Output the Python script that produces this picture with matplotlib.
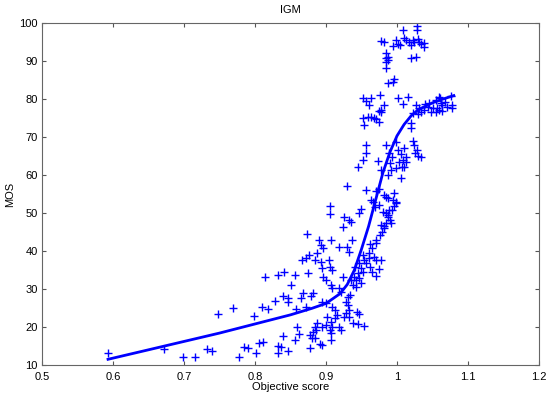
import numpy as np
import matplotlib.pyplot as plt

plt.rcParams['font.family'] = ['Liberation Sans', 'DejaVu Sans']

# scatter data (objective score, MOS)
score_low = [0.593, 0.672, 0.698, 0.715, 0.732, 0.739, 0.748, 0.769, 0.777, 0.785, 0.790, 0.801,
             0.806, 0.811, 0.798, 0.810, 0.818, 0.814, 0.832, 0.841, 0.856, 0.851, 0.840, 0.847,
             0.846, 0.828, 0.858, 0.856, 0.839, 0.832, 0.837, 0.833, 0.847]
mos_low = [13.2, 14.1, 12.2, 12.0, 14.1, 13.8, 23.4, 25.0, 12.2, 14.7, 14.4, 13.2,
           15.7, 16.1, 23.0, 25.2, 24.7, 33.2, 33.7, 34.4, 33.7, 31.1, 28.2, 27.6,
           26.5, 26.9, 24.7, 16.6, 17.7, 15.0, 14.8, 13.2, 13.7]

score_mid = [0.875, 0.8735, 0.859, 0.862, 0.876, 0.872, 0.866, 0.881, 0.879, 0.868, 0.865, 0.872,
             0.881, 0.878, 0.884, 0.880, 0.885, 0.886, 0.888, 0.878, 0.890, 0.893, 0.896, 0.887,
             0.884, 0.893, 0.895, 0.896, 0.900,
             0.895, 0.900, 0.909, 0.907, 0.909, 0.904, 0.905, 0.908, 0.907, 0.918, 0.906, 0.906,
             0.924, 0.918, 0.921, 0.931, 0.934, 0.928, 0.931, 0.932, 0.928, 0.933, 0.926, 0.913,
             0.915, 0.912, 0.902, 0.907, 0.909, 0.900, 0.905, 0.907, 0.895, 0.919, 0.921, 0.907,
             0.892, 0.895, 0.943, 0.946, 0.938, 0.945, 0.954]
mos_mid = [34.3, 44.4, 19.9, 18.1, 38.9, 38.1, 37.6, 28.9, 28.2, 28.9, 27.6, 25.3,
           18.8, 17.9, 17.0, 17.0, 20.1, 19.2, 21.0, 14.4, 42.9, 41.6, 40.7, 39.4,
           37.6, 37.2, 35.4, 33.2, 32.4,
           26.7, 26.2, 25.3, 31.1, 30.2, 37.6, 35.9, 35.0, 42.9, 41.0, 51.8, 49.7,
           33.2, 30.2, 29.3, 28.0, 28.4, 26.7, 25.8, 24.5, 23.6, 22.7, 22.7, 24.5,
           23.2, 22.3, 22.7, 21.4, 20.1, 20.5, 19.2, 18.3, 20.1, 20.1, 19.2, 16.6,
           15.5, 15.3, 24.0, 23.4, 21.0, 20.8, 20.3]

score_rise = [0.929, 0.956, 0.926, 0.932, 0.935, 0.924, 0.936, 0.930, 0.933, 0.949, 0.947, 0.963,
              0.966, 0.969, 0.974, 0.962, 0.965, 0.970, 0.960, 0.961, 0.968, 0.971, 0.978, 0.952,
              0.954, 0.956, 0.946, 0.949, 0.952, 0.941, 0.945, 0.940, 0.942, 0.947, 0.935, 0.938,
              0.942, 0.949, 0.962, 0.965, 0.970, 0.975, 0.976, 0.971, 0.979, 0.982, 0.978, 0.981,
              0.970, 0.974, 0.982, 0.985, 0.996, 0.999, 0.988, 0.980, 0.985, 0.988, 0.990, 0.985,
              0.993, 0.996, 0.989, 0.992, 0.987, 0.994, 0.999]
mos_rise = [57.1, 56.1, 49.0, 48.2, 47.7, 46.4, 42.9, 41.1, 39.8, 51.0, 50.1, 53.4,
            53.0, 51.7, 52.1, 41.8, 40.7, 42.2, 39.4, 38.1, 38.3, 37.6, 37.6, 38.9,
            37.6, 36.8, 36.8, 35.4, 34.6, 35.9, 34.1, 33.2, 32.4, 32.8, 32.4, 31.1,
            30.6, 31.5, 35.9, 34.6, 33.4, 35.2, 44.2, 42.9, 45.1, 46.0, 46.8, 46.6,
            55.9, 56.2, 54.7, 54.3, 55.3, 53.0, 53.9, 50.3, 49.9, 49.0, 48.2, 47.3,
            50.8, 51.8, 50.8, 47.3, 49.5, 53.4, 52.6]

score_high = [0.987, 1.006, 0.992, 0.999, 0.956, 0.956, 0.952, 0.945, 0.973, 0.978, 0.985, 0.989,
              0.993, 0.990, 0.999, 1.001, 1.006, 1.003, 1.007, 1.010, 1.012, 1.013, 1.008, 1.022,
              1.024, 1.028, 1.026, 1.029, 1.034, 1.020, 1.010,
              0.952, 0.957, 0.963, 0.960, 0.976, 0.982, 0.977, 1.001, 1.009, 1.016, 0.974, 0.978,
              0.952, 0.959, 0.963, 0.967, 0.970, 0.974, 0.953, 1.027, 1.031, 1.034, 1.038, 1.043,
              1.045, 1.050, 1.055, 1.060, 1.062, 1.067, 1.064, 1.055, 1.048, 1.022, 1.020, 1.059,
              1.076, 1.078, 1.078, 1.064, 1.059, 1.057, 1.030, 1.040, 1.070]
mos_high = [60.0, 59.1, 61.3, 61.8, 67.9, 65.7, 63.9, 62.0, 63.8, 61.3, 67.9, 65.9,
            64.8, 63.1, 68.8, 66.6, 65.5, 63.5, 62.2, 67.0, 64.8, 63.5, 63.9, 69.0,
            67.9, 66.6, 65.7, 65.0, 64.7, 72.3, 62.2,
            80.2, 79.6, 80.2, 78.4, 81.1, 78.4, 77.1, 80.2, 78.7, 80.6, 76.9, 76.5,
            74.9, 75.2, 75.2, 74.9, 74.7, 74.0, 73.2, 78.4, 77.6, 76.7, 77.1, 78.0,
            78.9, 77.6, 79.7, 80.2, 78.9, 79.3, 76.9, 76.7, 76.7, 76.2, 73.6, 80.6,
            80.8, 78.4, 77.6, 78.4, 77.1, 77.6, 76.0, 78.8, 78.0]

score_top = [0.987, 0.994, 0.996, 1.009, 1.028, 1.028, 0.978, 0.982, 0.994, 1.001, 0.999, 1.004,
             1.010, 1.013, 1.017, 1.020, 1.022, 1.024, 1.029, 1.031, 1.034, 1.038, 1.038, 0.985,
             0.987, 0.984, 0.988, 0.985, 0.984, 1.020, 1.027]
mos_top = [84.1, 84.6, 85.3, 98.2, 99.1, 98.2, 95.3, 95.1, 94.0, 94.4, 95.5, 94.2,
           96.1, 95.5, 95.1, 94.2, 95.5, 95.1, 95.8, 95.1, 94.4, 94.7, 93.8, 92.0,
           91.1, 90.7, 90.3, 89.8, 88.2, 90.9, 91.1]

# fitted curve
fit_x = [0.593, 0.65, 0.70, 0.75, 0.80, 0.85, 0.88, 0.90, 0.92, 0.93, 0.94, 0.95, 0.96,
         0.97, 0.98, 0.99, 1.00, 1.01, 1.02, 1.03, 1.05, 1.065, 1.08]
fit_y = [11.5, 14.0, 16.2, 18.4, 20.8, 23.2, 24.9, 26.2, 28.8, 31.2, 35.0, 40.5, 46.5,
         53.5, 60.5, 66.0, 70.3, 73.3, 75.6, 77.2, 79.0, 80.0, 80.9]

score = score_low + score_mid + score_rise + score_high + score_top
mos = mos_low + mos_mid + mos_rise + mos_high + mos_top

fig = plt.figure(figsize=(5.5, 3.98), dpi=100)
ax = fig.add_axes([42 / 550, 33 / 398, 497 / 550, 342 / 398])

ax.plot(score, mos, '+', color='#0000ff', markersize=5.5, markeredgewidth=1.0)
ax.plot(fit_x, fit_y, '-', color='#0000ff', linewidth=2)

ax.set_xlim(0.5, 1.2)
ax.set_ylim(10, 100)
ax.set_xticks(np.arange(0.5, 1.21, 0.1))
ax.set_xticklabels(['0.5', '0.6', '0.7', '0.8', '0.9', '1', '1.1', '1.2'])
ax.set_yticks(np.arange(10, 101, 10))
ax.tick_params(direction='in', top=True, right=True, length=3, labelsize=8,
               color='#555555')
ax.tick_params(axis='x', pad=5)
ax.tick_params(axis='y', pad=3)
for s in ax.spines.values():
    s.set_color('#666666')
    s.set_linewidth(0.8)

ax.set_title('IGM', fontsize=8, pad=7)
ax.set_xlabel('Objective score', fontsize=8, labelpad=0)
ax.set_ylabel('MOS', fontsize=8, labelpad=3)

fig.savefig('out.png', dpi=100)
